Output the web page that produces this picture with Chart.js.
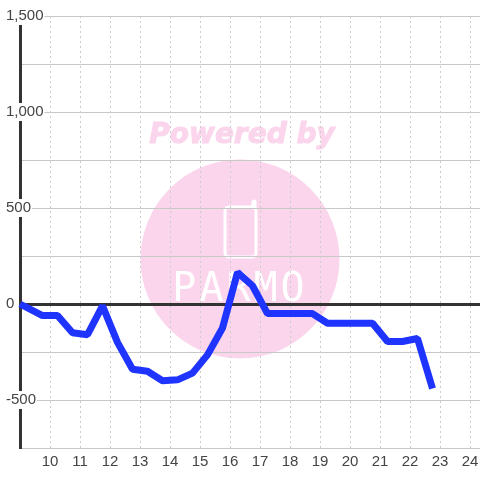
<!DOCTYPE html>
<html>
<head>
<meta charset="utf-8">
<style>
html, body { margin: 0; padding: 0; background: #fff; }
canvas { display: block; }
</style>
<script src="https://cdn.jsdelivr.net/npm/chart.js@4"></script>
</head>
<body>
<canvas id="chart" width="480" height="480"></canvas>
<script>
// values
const hours = [9, 9.75, 10.25, 10.75, 11.25, 11.75, 12.25, 12.75, 13.25, 13.75, 14.25, 14.75, 15.25, 15.75, 16.25, 16.75, 17.25, 17.75, 18.25, 18.75, 19.25, 19.75, 20.25, 20.75, 21.25, 21.75, 22.25, 22.75];
const values = [0, -60, -60, -150, -160, -10, -200, -340, -350, -400, -395, -360, -265, -125, 165, 95, -50, -50, -50, -50, -100, -100, -100, -100, -195, -195, -180, -440];
const hourTicks = [10, 11, 12, 13, 14, 15, 16, 17, 18, 19, 20, 21, 22, 23, 24];

const axisColor = '#333333';
const pink = '#fbd5ec';

// watermark goes under the grid
const watermark = {
    id: 'watermark',
    beforeDraw(chart) {
        const ctx = chart.ctx;
        ctx.save();
        ctx.fillStyle = pink;
        ctx.beginPath();
        ctx.arc(240, 259, 99.5, 0, Math.PI * 2);
        ctx.fill();

        ctx.font = 'italic bold 28px "DejaVu Sans"';
        ctx.textAlign = 'center';
        ctx.textBaseline = 'middle';
        ctx.strokeStyle = pink;
        ctx.lineWidth = 1;
        ctx.fillText('Powered by', 242, 136);
        ctx.strokeText('Powered by', 242, 136);

        // phone icon
        ctx.strokeStyle = '#fff';
        ctx.lineWidth = 3;
        ctx.beginPath();
        ctx.roundRect(225, 207, 31, 50, 4);
        ctx.stroke();
        ctx.lineCap = 'round';
        ctx.lineWidth = 5;
        ctx.beginPath();
        ctx.moveTo(254, 207);
        ctx.lineTo(254, 202);
        ctx.stroke();

        ctx.fillStyle = '#fff';
        ctx.font = '40px "DejaVu Sans Mono"';
        ctx.letterSpacing = '3px';
        ctx.fillText('PARMO', 240, 291);
        ctx.restore();
    }
};

new Chart(document.getElementById('chart'), {
    type: 'line',
    data: {
        datasets: [{
            data: hours.map((h, i) => ({ x: h, y: values[i] })),
            borderColor: '#1f35ff',
            borderWidth: 7,
            borderJoinStyle: 'bevel',
            pointRadius: 0,
            tension: 0,
            clip: false
        }]
    },
    plugins: [watermark],
    options: {
        responsive: false,
        animation: false,
        layout: { padding: { top: 16 } },
        plugins: { legend: { display: false }, tooltip: { enabled: false } },
        scales: {
            x: {
                type: 'linear',
                min: 9,
                max: 24.3333,
                afterFit: s => { s.height = 32; s.paddingLeft = 0; s.paddingRight = 0; },
                afterBuildTicks: s => { s.ticks = hourTicks.map(v => ({ value: v })); },
                border: { display: false, dash: [2, 3] },
                grid: { color: '#cccccc', lineWidth: 1, drawTicks: false },
                ticks: {
                    autoSkip: false,
                    maxRotation: 0,
                    padding: 5,
                    color: '#444444',
                    font: { family: '"Liberation Sans"', size: 15 }
                }
            },
            y: {
                min: -750,
                max: 1500,
                afterFit: s => { s.width = 20; },
                border: { color: axisColor, width: 3 },
                grid: {
                    // the zero line is the heavy one
                    color: c => (c.tick.value === 0 ? axisColor : '#c8c8c8'),
                    lineWidth: c => (c.tick.value === 0 ? 3 : 1),
                    drawTicks: false
                },
                ticks: {
                    stepSize: 250,
                    mirror: true, // labels sit across the axis line
                    padding: -14,
                    z: 1,
                    color: '#444444',
                    font: { family: '"Liberation Sans"', size: 15 },
                    showLabelBackdrop: c => c.tick.value % 500 === 0,
                    backdropColor: '#ffffff',
                    backdropPadding: { top: 0, bottom: 0, left: 1, right: 1 },
                    callback: v => (v % 500 === 0 ? v.toLocaleString('en-US') : '')
                }
            }
        }
    }
});
</script>
</body>
</html>
